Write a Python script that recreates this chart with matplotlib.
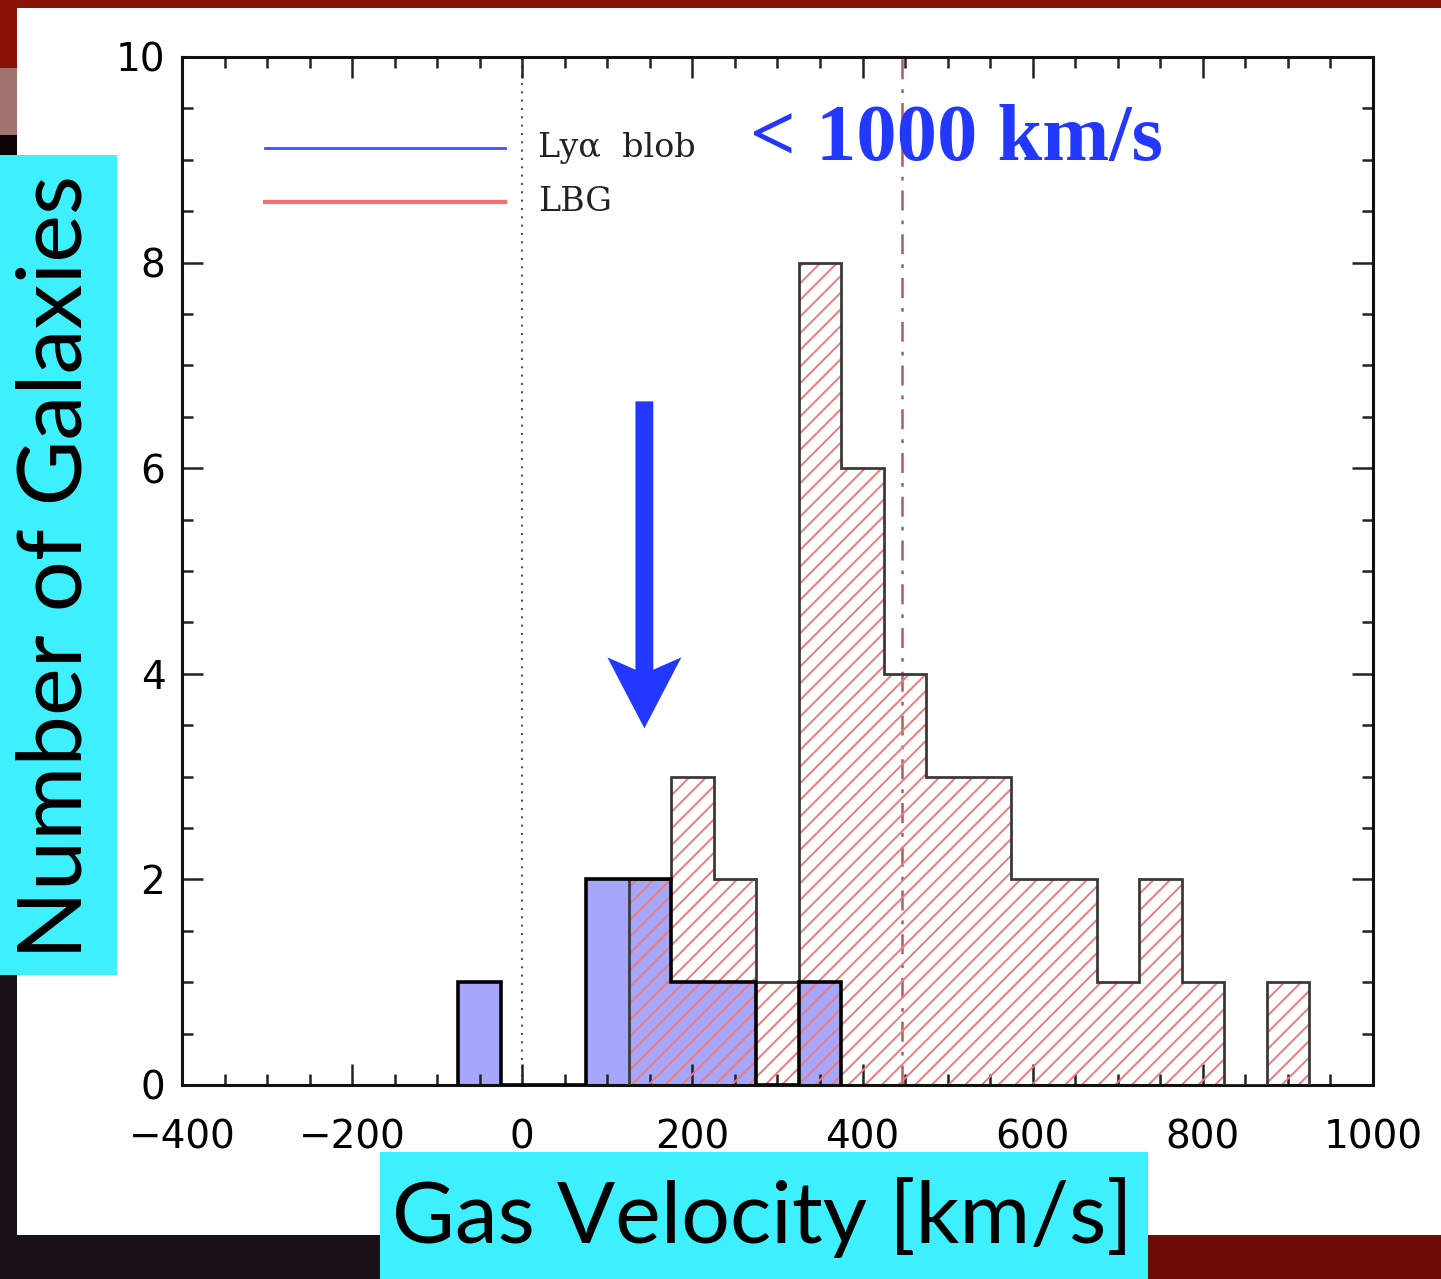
import numpy as np
import matplotlib
matplotlib.use('Agg')
import matplotlib.pyplot as plt
from matplotlib.patches import Rectangle, Polygon

# histogram data (50 km/s bins)
blob_edges = np.arange(-75, 376, 50)
blob_counts = [1, 0, 0, 2, 2, 1, 1, 0, 1]

lbg_edges = np.arange(125, 926, 50)
lbg_counts = [2, 3, 2, 1, 8, 6, 4, 3, 3, 2, 2, 1, 2, 1, 0, 1]

lbg_mean = 446
xticks = [-400, -200, 0, 200, 400, 600, 800, 1000]
xticklabels = ['\u2212400', '\u2212200', '0', '200', '400', '600', '800', '1000']
yticks = [0, 2, 4, 6, 8, 10]

W, H = 1441, 1279
fig = plt.figure(figsize=(W / 100, H / 100), dpi=100)
fig.patch.set_facecolor('#1a1018')

def px_rect(x0, y0, x1, y1, color, z=-5):
    # rectangle in pixel coords (origin top-left)
    fig.patches.append(Rectangle((x0 / W, 1 - y1 / H), (x1 - x0) / W, (y1 - y0) / H,
                                 transform=fig.transFigure, facecolor=color,
                                 edgecolor='none', zorder=z))

# slide background pieces
px_rect(0, 0, W, 8, '#8a1207')
px_rect(0, 0, 17, 68, '#8a1207')
px_rect(0, 68, 17, 135, '#a27470')
px_rect(0, 135, 17, 155, '#0c0406')
px_rect(1148, 1235, W, H, '#6e0d05')
px_rect(17, 8, W, 1235, 'white', z=-4)

ax = fig.add_axes([182 / W, 1 - 1085 / H, 1191 / W, 1028 / H])
ax.set_facecolor('none')
ax.set_xlim(-400, 1000)
ax.set_ylim(0, 10)

# Lya blob histogram
ax.bar(blob_edges[:-1], blob_counts, width=50, align='edge', color='#a6a6fb',
       linewidth=0, zorder=1)
# LBG histogram, red hatch
plt.rcParams['hatch.linewidth'] = 1.4
ax.bar(lbg_edges[:-1], lbg_counts, width=50, align='edge', facecolor='none',
       edgecolor='#f07a7a', hatch='//', linewidth=0, zorder=2)
ax.stairs(lbg_counts, lbg_edges, color='#3a3a3a', linewidth=2.0, baseline=0, zorder=3)
ax.stairs(blob_counts, blob_edges, color='black', linewidth=2.6, baseline=0, zorder=4)

# reference lines
ax.axvline(0, color='#555555', linestyle=(0, (1, 3)), linewidth=1.5, zorder=0)
ax.axvline(lbg_mean, color='#b55a5a', linestyle=(0, (8, 4, 1.5, 4)), linewidth=1.8, zorder=0)

# ticks
ax.set_xticks(xticks)
ax.set_xticklabels(xticklabels)
ax.set_yticks(yticks)
ax.set_xticks(np.arange(-400, 1001, 50), minor=True)
ax.set_yticks(np.arange(0, 10.01, 0.5), minor=True)
ax.tick_params(which='both', direction='in', top=True, right=True, width=1.8,
               color='#222222')
ax.tick_params(which='major', length=15)
ax.tick_params(which='minor', length=8)
ax.tick_params(axis='x', which='major', pad=24, labelsize=28)
ax.tick_params(axis='y', which='major', pad=12, labelsize=28)
for s in ax.spines.values():
    s.set_linewidth(2.2)
    s.set_color('#111111')

# legend drawn by hand
ax.plot([0.0697, 0.271], [0.9115, 0.9115], transform=ax.transAxes,
        color='#3a52ff', linewidth=2.0)
ax.plot([0.0697, 0.271], [0.859, 0.859], transform=ax.transAxes,
        color='#f07070', linewidth=3.0)
ax.text(0.299, 0.9115, 'Ly\u03b1  blob', transform=ax.transAxes, va='center',
        ha='left', fontsize=24, family='DejaVu Serif', color='#222222')
ax.text(0.299, 0.859, 'LBG', transform=ax.transAxes, va='center',
        ha='left', fontsize=24, family='DejaVu Serif', color='#222222')

# annotation
ax.text(0.477, 0.919, '< 1000 km/s', transform=ax.transAxes, va='center',
        ha='left', fontsize=58, family='Liberation Serif', fontweight='bold',
        color='#2238ff')

# big arrow
arrow_x, arrow_top, arrow_tip = 143.5, 6.65, 3.47
shaft_half, head_half, head_back, head_join = 10.5, 43.5, 4.16, 4.04
arrow_pts = [(arrow_x - shaft_half, arrow_top), (arrow_x + shaft_half, arrow_top),
             (arrow_x + shaft_half, head_join), (arrow_x + head_half, head_back),
             (arrow_x, arrow_tip), (arrow_x - head_half, head_back),
             (arrow_x - shaft_half, head_join)]
ax.add_patch(Polygon(arrow_pts, closed=True, facecolor='#2238ff', edgecolor='none', zorder=5))

# axis labels in cyan boxes
px_rect(0, 155, 117, 975, '#3ef0fd', z=2)
px_rect(380, 1152, 1148, H, '#3ef0fd', z=2)
fig.text(57 / W, 1 - 567 / H, 'Number of Galaxies', rotation=90, ha='center',
         va='center', fontsize=65, family='Lato', color='black', zorder=3)
fig.text(762 / W, 1 - 1218 / H, 'Gas Velocity [km/s]', ha='center',
         va='center', fontsize=62, family='Lato', color='black', zorder=3)

fig.savefig('out.png', dpi=100, facecolor=fig.get_facecolor())
